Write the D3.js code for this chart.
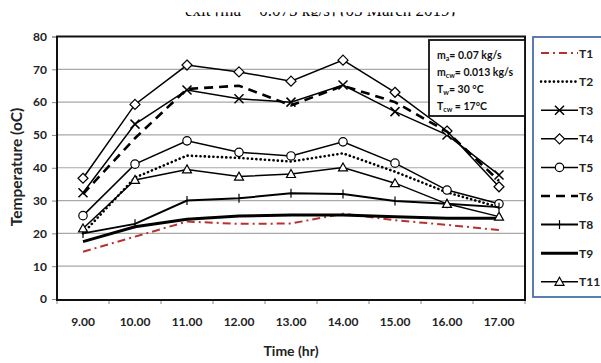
<!DOCTYPE html>
<html lang="en">
<head>
<meta charset="UTF-8">
<title>Temperature vs time</title>
<script src="https://d3js.org/d3.v7.min.js"></script>
<style>
    body { margin: 0; background: #fff; }
    svg { display: block; font-family: Lato, "Open Sans", sans-serif; }
</style>
</head>
<body>
<svg id="chart" width="601" height="363"></svg>
<script>
// data
const hours = ["9.00", "10.00", "11.00", "12.00", "13.00", "14.00", "15.00", "16.00", "17.00"];
const yTicks = [0, 10, 20, 30, 40, 50, 60, 70, 80];

const T1  = [14.4, 19.0, 23.6, 22.9, 23.0, 26.0, 24.0, 22.6, 21.0];
const T2  = [20.0, 37.0, 43.7, 43.0, 41.9, 44.4, 38.8, 32.5, 28.0];
const T3  = [32.4, 53.3, 63.7, 61.0, 60.0, 65.2, 57.1, 50.0, 37.8];
const T4  = [36.8, 59.3, 71.3, 69.2, 66.4, 72.8, 63.0, 51.2, 34.2];
const T5  = [25.4, 41.1, 48.2, 44.7, 43.6, 47.9, 41.4, 33.2, 29.0];
const T6  = [32.0, 49.0, 64.0, 65.0, 59.0, 65.0, 60.0, 51.0, 36.0];
const T8  = [20.0, 22.9, 30.0, 30.7, 32.2, 32.0, 29.9, 29.0, 28.0];
const T9  = [17.5, 22.0, 24.3, 25.3, 25.6, 25.6, 25.1, 24.6, 24.6];
const T11 = [21.5, 36.3, 39.5, 37.3, 38.1, 40.1, 35.3, 29.0, 25.1];

const series = [
    { name: "T1",  values: T1,  stroke: "#b8312f", width: 2,   dash: "8 4 2 4", marker: null },
    { name: "T2",  values: T2,  stroke: "#000", width: 2.6, dash: "0.1 4.2", cap: "round", marker: null },
    { name: "T3",  values: T3,  stroke: "#000", width: 1.5, dash: null, marker: "x" },
    { name: "T4",  values: T4,  stroke: "#000", width: 1.5, dash: null, marker: "diamond" },
    { name: "T5",  values: T5,  stroke: "#000", width: 1.5, dash: null, marker: "circle" },
    { name: "T6",  values: T6,  stroke: "#000", width: 2.6, dash: "9 6", marker: null },
    { name: "T8",  values: T8,  stroke: "#000", width: 2,   dash: null, marker: "plus" },
    { name: "T9",  values: T9,  stroke: "#000", width: 3,   dash: null, marker: null },
    { name: "T11", values: T11, stroke: "#000", width: 1.5, dash: null, marker: "triangle" }
];

const svg = d3.select("#chart");
const plot = { left: 57, right: 525, top: 36.5, bottom: 299 };

const x = d3.scaleBand().domain(hours).range([plot.left, plot.right]);
const y = d3.scaleLinear().domain([0, 80]).range([plot.bottom, plot.top]);
const cx = d => x(d) + x.bandwidth() / 2;

// title cut off at the top of the image, only the foot of the letters shows
svg.append("clipPath").attr("id", "titleClip")
    .append("rect").attr("x", 0).attr("y", 12.3).attr("width", 601).attr("height", 4);
svg.append("text")
    .attr("clip-path", "url(#titleClip)")
    .attr("x", 320).attr("y", 16.3)
    .attr("text-anchor", "middle")
    .attr("font-family", "'Liberation Serif', serif")
    .attr("font-size", 17)
    .text("exit [ṁa = 0.075 kg/s] (05 March 2019)");

// gridlines
svg.append("g")
    .selectAll("line")
    .data(yTicks.slice(1))
    .join("line")
    .attr("x1", plot.left).attr("x2", plot.right)
    .attr("y1", d => y(d)).attr("y2", d => y(d))
    .attr("stroke", "#a8a8a8").attr("stroke-width", 1.2);

// y axis
const yAxis = svg.append("g")
    .attr("transform", `translate(${plot.left},0)`)
    .call(d3.axisLeft(y).tickValues(yTicks).tickSize(5).tickPadding(5));
yAxis.select(".domain").attr("stroke", "#888");
yAxis.selectAll(".tick line").attr("stroke", "#888");
yAxis.selectAll("text")
    .attr("font-family", "Lato, sans-serif")
    .attr("font-weight", "bold").attr("font-size", 12).attr("fill", "#222");

// x axis with ticks on category boundaries
const xAxis = svg.append("g")
    .attr("transform", `translate(0,${plot.bottom + 1})`)
    .call(d3.axisBottom(x).tickSize(0).tickPadding(17));
xAxis.select(".domain").attr("stroke", "#888");
xAxis.selectAll("text")
    .attr("font-family", "Lato, sans-serif")
    .attr("font-weight", "bold").attr("font-size", 12).attr("fill", "#222");
xAxis.selectAll("line.bound")
    .data(d3.range(hours.length + 1))
    .join("line")
    .attr("class", "bound")
    .attr("x1", i => plot.left + i * x.bandwidth())
    .attr("x2", i => plot.left + i * x.bandwidth())
    .attr("y1", 0).attr("y2", 4)
    .attr("stroke", "#888");

// plot border
svg.append("rect")
    .attr("x", plot.left).attr("y", plot.top)
    .attr("width", plot.right - plot.left).attr("height", plot.bottom - plot.top + 1)
    .attr("fill", "none").attr("stroke", "#111").attr("stroke-width", 2);

// axis titles
svg.append("text")
    .attr("transform", "translate(22,167) rotate(-90)")
    .attr("text-anchor", "middle")
    .attr("font-weight", "bold").attr("font-size", 15.5).attr("fill", "#222")
    .text("Temperature (oC)");
svg.append("text")
    .attr("x", 291).attr("y", 356)
    .attr("text-anchor", "middle")
    .attr("font-weight", "bold").attr("font-size", 14).attr("fill", "#222")
    .text("Time (hr)");

// marker drawing
function drawMarker(g, type, px, py) {
    if (type === "circle") {
        g.append("circle").attr("cx", px).attr("cy", py).attr("r", 4.2)
            .attr("fill", "#fff").attr("stroke", "#000").attr("stroke-width", 1.2);
    } else if (type === "diamond") {
        g.append("path").attr("d", `M${px},${py - 5}L${px + 5},${py}L${px},${py + 5}L${px - 5},${py}Z`)
            .attr("fill", "#fff").attr("stroke", "#000").attr("stroke-width", 1.2);
    } else if (type === "triangle") {
        g.append("path").attr("d", `M${px},${py - 4.5}L${px + 4.5},${py + 3.5}L${px - 4.5},${py + 3.5}Z`)
            .attr("fill", "#fff").attr("stroke", "#000").attr("stroke-width", 1.2);
    } else if (type === "x") {
        g.append("path").attr("d", `M${px - 4.5},${py - 4.5}L${px + 4.5},${py + 4.5}M${px + 4.5},${py - 4.5}L${px - 4.5},${py + 4.5}`)
            .attr("stroke", "#000").attr("stroke-width", 1.5);
    } else if (type === "plus") {
        g.append("path").attr("d", `M${px},${py - 4.5}L${px},${py + 4.5}`)
            .attr("stroke", "#000").attr("stroke-width", 1.2);
    }
}

// series lines
const line = d3.line().x((d, i) => cx(hours[i])).y(d => y(d));
series.forEach(s => {
    const g = svg.append("g");
    g.append("path")
        .attr("d", line(s.values))
        .attr("fill", "none")
        .attr("stroke", s.stroke)
        .attr("stroke-width", s.width)
        .attr("stroke-dasharray", s.dash)
        .attr("stroke-linecap", s.cap || "butt");
    if (s.marker) s.values.forEach((v, i) => drawMarker(g, s.marker, cx(hours[i]), y(v)));
});

// info box
const info = svg.append("g");
info.append("rect")
    .attr("x", 429).attr("y", 40).attr("width", 96).attr("height", 76)
    .attr("fill", "#fff").attr("stroke", "#111").attr("stroke-width", 1.8);
const infoLines = [
    ["m", "a", "= 0.07 kg/s"],
    ["m", "cw", "= 0.013 kg/s"],
    ["T", "w", "= 30 °C"],
    ["T", "cw", " = 17°C"]
];
infoLines.forEach((l, i) => {
    const t = info.append("text")
        .attr("x", 437).attr("y", 59 + i * 17)
        .attr("font-weight", "bold").attr("font-size", 10.5).attr("fill", "#111");
    t.append("tspan").text(l[0]);
    t.append("tspan").attr("font-size", 7).attr("dy", 2).text(l[1]);
    t.append("tspan").attr("dy", -2).text(l[2]);
});

// legend
const legend = svg.append("g");
legend.append("rect")
    .attr("x", 533).attr("y", 37).attr("width", 80).attr("height", 260)
    .attr("fill", "#fff").attr("stroke", "#4a6fa8").attr("stroke-width", 1.8);
series.forEach((s, i) => {
    const ly = 53 + i * 28.6;
    const g = legend.append("g");
    g.append("path")
        .attr("d", `M541,${ly}L578,${ly}`)
        .attr("stroke", s.stroke)
        .attr("stroke-width", s.width)
        .attr("stroke-dasharray", s.dash)
        .attr("stroke-linecap", s.cap || "butt");
    if (s.marker) drawMarker(g, s.marker, 559.5, ly);
    g.append("text")
        .attr("x", 579).attr("y", ly + 4.5)
        .attr("font-weight", "bold").attr("font-size", 12).attr("fill", "#222")
        .text(s.name);
});
</script>
</body>
</html>
